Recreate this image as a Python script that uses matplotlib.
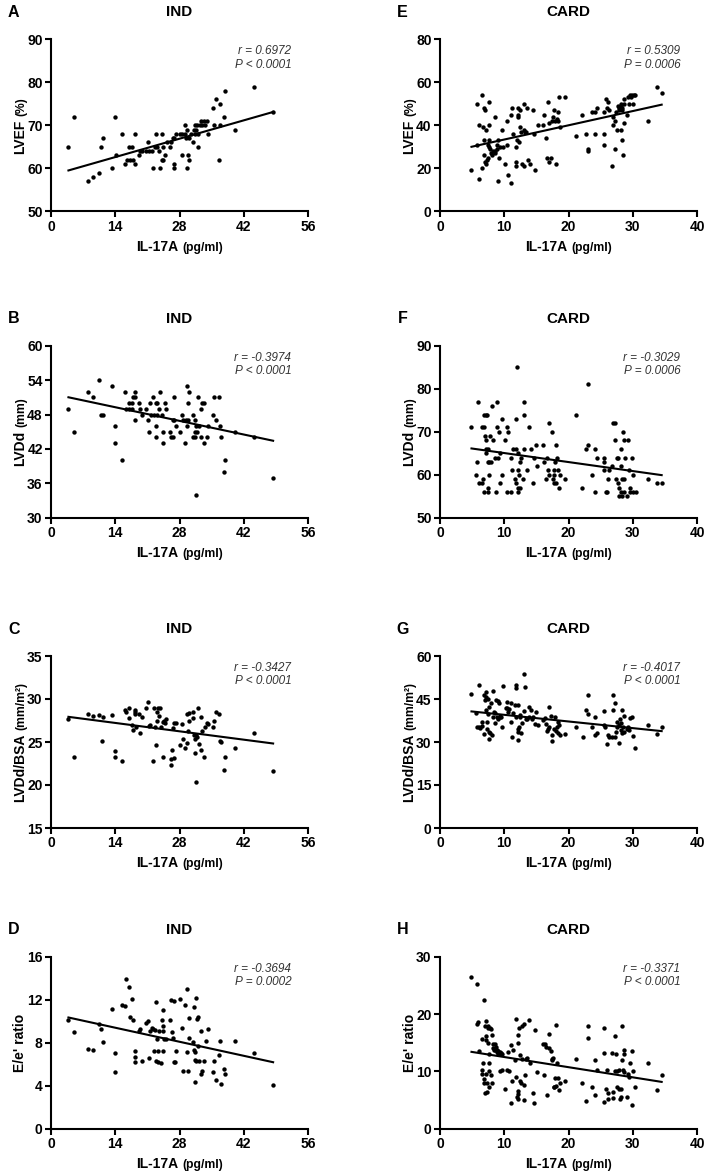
#Scatter plots of IL-17A against echo parameters, IND (left) and CARD (right) groups
#Each panel gets a least-squares line (slope/intercept)

import numpy as np
import matplotlib
matplotlib.use('Agg')
import matplotlib.pyplot as plt
from matplotlib.transforms import IdentityTransform

plt.rcParams['font.family'] = ['Liberation Sans', 'DejaVu Sans']

#---- IND group (panels A-D) ----
ind_a_x = [3.8, 5.0, 8.1, 9.1, 10.4, 11.0, 11.3, 13.3, 13.9, 14.1, 15.4, 16.2, 16.5, 17.0, 17.2, 17.7,
           17.9, 18.3, 18.4, 19.1, 19.4, 19.9, 20.6, 21.2, 21.3, 21.9, 22.3, 22.7, 22.8, 23.1, 23.6, 23.7,
           24.1, 24.2, 24.4, 24.4, 24.9, 25.2, 26.0, 26.2, 26.5, 26.7, 26.9, 26.9, 27.2, 28.1, 28.6, 28.6,
           29.1, 29.2, 29.5, 29.7, 29.7, 29.9, 30.0, 30.1, 30.4, 31.0, 31.1, 31.3, 31.4, 31.5, 31.8, 32.0,
           32.1, 32.4, 32.7, 33.0, 33.3, 33.6, 33.9, 34.3, 35.2, 35.5, 35.9, 36.5, 36.8, 36.9, 37.6, 37.9,
           40.0, 44.3, 48.4]
ind_a_y = [65, 72, 57, 58, 59, 65, 67, 60, 72, 63, 68, 61, 62, 65, 62, 65,
           62, 61, 68, 63, 64, 64, 64, 66, 64, 64, 60, 65, 68, 65, 64, 60,
           62, 68, 65, 62, 63, 66, 65, 66, 67, 61, 60, 67, 68, 68, 63, 68,
           70, 68, 67, 69, 60, 63, 62, 67, 68, 66, 69, 70, 68, 69, 70, 65,
           68, 70, 71, 70, 71, 70, 71, 68, 74, 70, 76, 62, 75, 70, 72, 78,
           69, 79, 73]

ind_b_x = [3.8, 5.0, 8.1, 9.1, 10.4, 11.0, 11.3, 13.3, 13.9, 14.0, 15.4, 16.2, 16.3, 16.9, 17.0, 17.6,
           17.7, 17.9, 18.2, 18.3, 18.4, 19.1, 19.4, 19.8, 20.6, 21.2, 21.3, 21.6, 21.8, 22.3, 22.4, 22.8,
           22.8, 22.9, 23.1, 23.2, 23.6, 23.8, 24.1, 24.3, 24.4, 24.9, 25.0, 26.0, 26.2, 26.5, 26.6, 26.8,
           26.9, 27.2, 28.2, 28.5, 28.8, 29.1, 29.4, 29.7, 29.7, 29.9, 30.0, 29.9, 31.0, 31.0, 31.3, 31.3,
           31.4, 31.5, 31.7, 31.8, 32.0, 32.2, 32.6, 32.7, 32.9, 33.4, 33.4, 34.0, 34.3, 35.2, 35.5, 35.9,
           36.5, 36.9, 37.0, 37.6, 37.9, 40.0, 44.3, 48.4]
ind_b_y = [49, 45, 52, 51, 54, 48, 48, 53, 43, 46, 40, 52, 49, 49, 50, 49,
           50, 51, 51, 52, 47, 50, 49, 48, 49, 47, 45, 50, 48, 51, 48, 46,
           50, 44, 50, 48, 49, 52, 48, 45, 43, 50, 49, 45, 44, 44, 47, 51,
           47, 46, 45, 48, 47, 43, 47, 46, 53, 50, 52, 47, 48, 44, 45, 47,
           44, 34, 46, 45, 51, 46, 49, 44, 50, 50, 43, 44, 46, 48, 51, 47,
           51, 46, 44, 38, 40, 45, 44, 37]

ind_c_x = [3.8, 5.1, 8.1, 9.1, 10.5, 11.1, 11.3, 13.3, 14.0, 13.9, 15.4, 16.2, 16.3, 17.0, 17.1, 17.6,
           17.9, 18.2, 18.3, 18.4, 18.6, 19.1, 19.3, 19.8, 20.7, 21.2, 21.3, 21.6, 22.2, 22.4, 22.7, 22.9,
           23.0, 23.1, 23.3, 23.6, 23.7, 24.0, 24.3, 24.4, 24.7, 24.9, 25.0, 26.1, 26.2, 26.4, 26.5, 26.8,
           26.9, 27.2, 28.2, 28.5, 28.8, 29.1, 29.6, 29.7, 29.9, 30.0, 30.0, 31.0, 31.0, 31.1, 31.3, 31.3,
           31.5, 31.7, 31.8, 32.1, 32.2, 32.6, 32.7, 33.0, 33.4, 33.6, 34.0, 34.3, 35.2, 35.5, 35.9, 36.5,
           36.9, 37.0, 37.6, 37.9, 40.0, 44.3, 48.4]
ind_c_y = [27.7, 23.2, 28.2, 28.0, 28.1, 25.1, 27.9, 28.1, 24.0, 23.3, 22.8, 28.7, 28.5, 28.9, 27.8, 27.0,
           26.4, 28.7, 28.2, 28.5, 26.8, 28.2, 26.0, 27.9, 29.0, 29.7, 26.9, 27.0, 22.8, 29.0, 26.8, 24.6,
           28.5, 27.4, 28.9, 28.0, 28.9, 26.8, 27.3, 23.3, 27.5, 27.2, 27.7, 22.3, 23.0, 24.1, 26.6, 27.2,
           23.1, 27.2, 24.7, 27.1, 25.4, 24.3, 24.9, 28.2, 26.3, 27.5, 28.4, 27.8, 28.5, 25.8, 23.7, 25.4,
           20.3, 25.8, 25.6, 28.9, 24.8, 24.1, 27.9, 26.3, 23.3, 26.7, 27.2, 27.1, 26.8, 27.5, 28.5, 28.2,
           25.1, 25.0, 21.8, 23.3, 24.3, 26.1, 21.6]

ind_d_x = [3.8, 5.0, 8.1, 9.1, 10.4, 11.0, 11.3, 13.3, 13.9, 13.9, 15.4, 16.2, 16.4, 17.0, 17.2, 17.7,
           17.9, 18.3, 18.2, 18.2, 19.2, 19.4, 19.9, 20.6, 21.2, 21.3, 21.6, 21.9, 22.3, 22.5, 22.7, 22.8,
           22.9, 23.1, 23.3, 23.4, 23.6, 23.9, 24.1, 24.3, 24.3, 24.4, 24.4, 24.7, 25.0, 26.0, 26.2, 26.4,
           26.5, 26.8, 26.9, 27.0, 27.2, 28.2, 28.6, 28.8, 29.1, 29.7, 29.7, 29.8, 30.0, 30.1, 31.0, 31.1,
           31.2, 31.3, 31.3, 31.4, 31.5, 31.7, 31.8, 32.0, 32.1, 32.2, 32.6, 32.7, 32.9, 33.4, 33.8, 34.3,
           35.2, 35.5, 35.9, 36.5, 36.9, 37.0, 37.6, 37.9, 40.0, 44.3, 48.4]
ind_d_y = [10.1, 9.0, 7.4, 7.3, 9.75, 9.3, 8.1, 11.15, 7.05, 5.25, 11.55, 11.43, 13.9, 13.2, 10.4, 12.1,
           10.1, 7.2, 6.7, 6.2, 9.1, 9.3, 6.3, 9.85, 10.0, 6.6, 9.1, 9.35, 9.3, 7.2, 9.2, 6.3,
           11.8, 8.3, 6.2, 7.2, 9.1, 6.1, 10.1, 9.1, 7.2, 9.6, 11.0, 8.3, 8.35, 10.1, 12.0, 9.0,
           8.45, 11.9, 6.2, 6.25, 7.2, 12.1, 9.35, 5.35, 11.5, 7.1, 13.0, 5.35, 10.3, 8.45, 8.1, 11.3,
           7.3, 7.1, 6.35, 4.3, 12.2, 6.3, 10.2, 10.35, 7.7, 6.3, 9.1, 5.05, 5.4, 6.3, 8.2, 9.3,
           5.3, 6.3, 4.55, 6.85, 8.15, 4.2, 5.6, 5.1, 8.15, 7.0, 4.1]

#---- CARD group (panels E-H) ----
card_e_x = [4.9, 5.7, 5.7, 6.0, 6.0, 6.5, 6.5, 6.7, 6.8, 6.9, 6.9, 7.0, 7.0, 7.1, 7.2, 7.3,
            7.4, 7.5, 7.6, 7.6, 7.7, 7.7, 7.8, 7.9, 8.1, 8.3, 8.5, 8.6, 8.6, 8.8, 9.1, 8.9,
            9.0, 9.2, 9.4, 9.6, 9.8, 10.1, 10.4, 10.5, 10.6, 11.0, 11.1, 11.2, 11.3, 11.8, 11.9, 11.9,
            12.0, 12.1, 12.1, 12.2, 12.3, 12.4, 12.4, 12.6, 12.7, 13.0, 13.1, 13.1, 13.2, 13.4, 13.6, 13.7,
            14.0, 14.4, 14.7, 14.8, 15.2, 16.0, 16.2, 16.5, 16.7, 16.8, 16.9, 17.0, 17.3, 17.4, 17.6, 17.7,
            17.9, 18.0, 18.2, 18.3, 18.4, 18.5, 18.6, 19.4, 21.1, 22.1, 22.8, 23.0, 23.1, 23.6, 24.1, 24.2,
            24.4, 25.5, 25.6, 25.6, 25.8, 26.0, 26.2, 26.3, 26.8, 26.9, 27.0, 27.2, 27.3, 27.4, 27.5, 27.7,
            27.8, 27.9, 28.1, 28.2, 28.2, 28.3, 28.4, 28.3, 28.5, 28.6, 28.6, 28.7, 29.1, 29.2, 29.4, 29.5,
            29.7, 29.9, 30.0, 30.2, 30.4, 32.4, 33.8, 34.5]
card_e_y = [19, 50, 31, 15, 40, 54, 20, 39, 48, 33, 26, 47, 23, 38, 22, 24,
            31, 25, 33, 40, 30, 51, 29, 27, 26, 28, 27, 28, 44, 31, 33, 29,
            14, 25, 30, 38, 30, 22, 42, 31, 17, 13, 45, 48, 36, 23, 30, 21,
            33, 48, 45, 44, 32, 47, 39, 37, 22, 38, 21, 50, 37, 37, 48, 24,
            22, 47, 36, 19, 40, 40, 45, 34, 25, 51, 41, 23, 25, 42, 44, 47,
            42, 22, 43, 42, 46, 53, 39, 53, 35, 45, 36, 29, 28, 46, 36, 46,
            48, 36, 31, 46, 52, 48, 51, 47, 21, 40, 44, 29, 42, 46, 38, 49,
            48, 47, 49, 38, 50, 47, 48, 33, 26, 41, 50, 52, 45, 53, 50, 54,
            53, 54, 50, 54, 54, 42, 58, 55]

card_f_x = [4.9, 5.7, 5.6, 5.9, 6.0, 6.5, 6.6, 6.7, 6.8, 6.9, 6.9, 7.0, 7.1, 7.1, 7.2, 7.2,
            7.3, 7.4, 7.4, 7.4, 7.5, 7.6, 7.7, 7.8, 7.9, 8.1, 8.2, 8.6, 8.7, 8.8, 8.9, 9.0,
            9.2, 9.4, 9.3, 9.6, 9.7, 10.1, 10.4, 10.5, 10.6, 11.0, 11.1, 11.2, 11.4, 11.7, 11.8, 11.9,
            11.9, 12.0, 12.1, 12.1, 12.2, 12.2, 12.3, 12.4, 12.4, 12.6, 12.9, 13.0, 13.1, 13.1, 13.6, 13.8,
            14.1, 14.4, 14.7, 14.9, 15.1, 16.0, 16.2, 16.5, 16.6, 16.8, 16.9, 17.0, 17.4, 17.6, 17.7, 17.7,
            17.8, 17.9, 18.0, 18.1, 18.2, 18.4, 18.5, 18.6, 19.4, 21.1, 22.1, 22.8, 23.0, 23.1, 23.6, 24.1,
            24.2, 24.4, 25.5, 25.6, 25.6, 25.8, 26.0, 26.2, 26.3, 26.8, 26.9, 27.2, 27.3, 27.4, 27.5, 27.7,
            27.7, 27.8, 27.9, 28.1, 28.1, 28.2, 28.3, 28.4, 28.5, 28.6, 28.6, 28.7, 28.8, 29.1, 29.2, 29.4,
            29.5, 29.6, 29.9, 30.0, 30.1, 30.5, 32.4, 33.8, 34.5]
card_f_y = [71, 63, 60, 77, 58, 71, 58, 59, 71, 56, 74, 69, 68, 74, 66, 65,
            74, 57, 66, 63, 56, 63, 60, 69, 63, 76, 68, 64, 56, 77, 71, 64,
            70, 58, 65, 60, 73, 68, 56, 71, 70, 64, 56, 61, 66, 59, 66, 73,
            58, 85, 61, 56, 65, 57, 60, 63, 57, 64, 59, 74, 77, 66, 61, 71,
            66, 58, 64, 67, 62, 67, 63, 59, 64, 61, 72, 60, 70, 59, 61, 58,
            60, 63, 67, 58, 64, 61, 57, 60, 59, 74, 57, 66, 81, 67, 60, 66,
            56, 64, 64, 63, 61, 56, 56, 59, 61, 62, 72, 72, 68, 59, 64, 64,
            58, 55, 57, 56, 62, 66, 55, 59, 70, 56, 59, 68, 64, 55, 68, 61,
            56, 57, 64, 60, 56, 56, 59, 58, 58]

card_g_x = [4.9, 5.6, 5.8, 6.0, 6.1, 6.3, 6.5, 6.6, 6.8, 6.9, 7.0, 7.1, 7.1, 7.2, 7.3, 7.3,
            7.4, 7.5, 7.6, 7.6, 7.7, 7.8, 7.9, 8.1, 8.2, 8.3, 8.4, 8.5, 8.6, 8.7, 8.8, 9.0,
            9.1, 9.2, 9.3, 9.4, 9.5, 9.6, 9.8, 10.2, 10.4, 10.5, 10.6, 10.8, 11.0, 11.1, 11.2, 11.4,
            11.7, 11.8, 11.9, 11.9, 12.1, 12.1, 12.1, 12.2, 12.3, 12.4, 12.5, 12.6, 12.8, 13.0, 13.1, 13.2,
            13.4, 13.6, 13.8, 13.9, 14.1, 14.3, 14.5, 14.8, 15.0, 15.2, 16.0, 16.3, 16.5, 16.7, 16.8, 16.9,
            17.0, 17.3, 17.4, 17.5, 17.7, 17.9, 18.0, 18.2, 18.3, 18.4, 18.5, 18.6, 19.4, 21.1, 22.2, 22.8,
            23.0, 23.1, 23.6, 24.1, 24.2, 24.4, 25.5, 25.6, 25.7, 26.0, 26.2, 26.3, 26.8, 26.9, 27.0, 27.2,
            27.3, 27.4, 27.5, 27.6, 27.8, 27.9, 28.0, 28.1, 28.2, 28.3, 28.4, 28.5, 28.6, 28.7, 29.1, 29.2,
            29.4, 29.6, 29.9, 30.0, 30.4, 32.4, 33.8, 34.5]
card_g_y = [46.7, 40.0, 35.1, 50.0, 35.3, 35.0, 37.0, 35.7, 32.7, 46.4, 44.6, 47.4, 41.1, 45.6, 37.0, 34.4,
            44.9, 39.6, 30.9, 33.4, 42.3, 33.0, 43.5, 32.4, 47.8, 38.6, 40.3, 36.8, 40.0, 44.6, 38.8, 44.2,
            38.0, 43.5, 39.0, 38.6, 38.8, 35.3, 49.5, 41.7, 43.9, 41.7, 40.3, 41.6, 37.0, 43.5, 31.6, 40.2,
            42.8, 50.0, 38.6, 48.7, 43.0, 33.6, 30.6, 34.6, 35.3, 39.4, 38.8, 33.0, 36.5, 40.8, 53.7, 49.3,
            38.1, 37.9, 38.8, 42.1, 41.1, 38.1, 38.8, 36.2, 40.3, 36.0, 37.6, 38.3, 36.2, 33.9, 34.5, 42.1,
            35.3, 39.0, 32.4, 30.4, 34.5, 38.7, 33.9, 35.3, 36.9, 33.0, 36.0, 32.5, 32.7, 35.2, 31.6, 41.1,
            46.4, 39.6, 35.2, 38.8, 32.5, 33.0, 40.7, 36.1, 35.2, 29.2, 32.4, 31.8, 31.8, 46.5, 41.1, 43.5,
            31.8, 33.6, 35.3, 37.0, 29.7, 36.0, 37.9, 34.1, 36.5, 41.1, 33.0, 35.2, 39.0, 33.6, 34.6, 35.3,
            34.1, 38.2, 38.8, 32.0, 28.0, 35.8, 32.7, 35.2]

card_h_x = [4.9, 5.7, 5.7, 5.9, 6.0, 6.5, 6.5, 6.6, 6.7, 6.8, 6.9, 6.9, 7.0, 7.0, 7.1, 7.1,
            7.2, 7.2, 7.3, 7.3, 7.4, 7.4, 7.5, 7.6, 7.6, 7.7, 7.7, 7.8, 7.9, 7.9, 8.1, 8.1,
            8.2, 8.3, 8.4, 8.5, 8.6, 8.7, 8.8, 8.9, 9.0, 9.1, 9.2, 9.3, 9.4, 9.5, 9.6, 9.7,
            10.1, 10.4, 10.6, 10.8, 11.0, 11.1, 11.2, 11.3, 11.7, 11.9, 11.9, 12.0, 12.1, 12.1, 12.1, 12.2,
            12.2, 12.3, 12.4, 12.5, 12.6, 12.7, 12.8, 13.0, 13.1, 13.1, 13.2, 13.4, 13.6, 13.8, 14.0, 14.4,
            14.7, 14.8, 15.1, 16.0, 16.2, 16.3, 16.5, 16.7, 16.9, 17.0, 17.3, 17.4, 17.5, 17.6, 17.7, 17.8,
            17.9, 18.0, 18.1, 18.2, 18.3, 18.5, 18.6, 19.4, 21.1, 22.1, 22.8, 23.0, 23.1, 23.6, 24.1, 24.2,
            24.4, 25.5, 25.5, 25.6, 25.8, 26.0, 26.1, 26.2, 26.8, 26.9, 27.0, 27.2, 27.3, 27.4, 27.5, 27.6,
            27.8, 27.9, 28.0, 28.1, 28.2, 28.3, 28.4, 28.5, 28.6, 28.7, 28.7, 29.1, 29.2, 29.4, 29.5, 29.9,
            30.0, 29.9, 30.4, 32.4, 33.8, 34.5]
card_h_y = [26.5, 25.2, 18.2, 18.6, 13.5, 15.6, 10.3, 9.6, 11.4, 8.0, 22.5, 8.7, 6.3, 17.9, 15.4, 18.8,
            9.5, 16.2, 7.9, 6.4, 17.9, 14.9, 17.5, 11.5, 10.0, 7.3, 13.1, 17.6, 9.3, 17.4, 16.4, 8.0,
            14.1, 14.8, 13.7, 13.7, 14.7, 14.2, 13.7, 13.3, 13.1, 13.5, 13.0, 13.3, 10.0, 13.2, 13.1, 10.2,
            7.0, 10.2, 13.4, 10.0, 14.6, 4.4, 8.3, 13.7, 11.9, 19.1, 9.1, 5.5, 6.6, 6.1, 5.2, 16.4,
            15.0, 17.6, 8.4, 12.9, 8.0, 17.9, 12.2, 18.2, 5.0, 7.6, 9.3, 12.2, 12.3, 18.9, 11.5, 6.2,
            4.4, 17.3, 9.9, 14.8, 9.3, 14.8, 14.3, 5.9, 16.6, 14.0, 13.5, 12.2, 11.9, 12.3, 7.2, 7.3,
            8.9, 18.1, 7.4, 11.5, 8.9, 6.7, 7.9, 8.3, 12.1, 8.0, 4.9, 17.9, 15.8, 7.2, 11.9, 5.8,
            10.2, 13.2, 17.5, 4.7, 6.9, 10.2, 6.2, 5.1, 13.2, 5.4, 6.4, 16.2, 10.0, 13.0, 10.1, 7.3,
            7.0, 10.3, 5.2, 7.0, 5.5, 11.9, 17.9, 10.2, 13.1, 13.7, 9.9, 5.5, 9.6, 9.0, 11.5, 13.5,
            10.0, 4.2, 7.3, 11.5, 6.8, 9.3]

#Regression lines as (intercept, slope)
fit_a = (58.34, 0.305)
fit_b = (51.65, -0.170)
fit_c = (28.19, -0.0695)
fit_d = (10.70, -0.0933)
fit_e = (26.76, 0.662)
fit_f = (67.13, -0.2095)
fit_g = (41.80, -0.232)
fit_h = (14.27, -0.177)

stats_text = {
    'A': ('r = 0.6972', 'P < 0.0001'),
    'B': ('r = -0.3974', 'P < 0.0001'),
    'C': ('r = -0.3427', 'P < 0.0001'),
    'D': ('r = -0.3694', 'P = 0.0002'),
    'E': ('r = 0.5309', 'P = 0.0006'),
    'F': ('r = -0.3029', 'P = 0.0006'),
    'G': ('r = -0.4017', 'P < 0.0001'),
    'H': ('r = -0.3371', 'P < 0.0001'),
}

ind_xticks = [0, 14, 28, 42, 56]
card_xticks = [0, 10, 20, 30, 40]

fig = plt.figure(figsize=(7.11, 11.75), dpi=100)
renderer = fig.canvas.get_renderer()


def split_label(ax, big, small, horizontal, offset_px):
    #Axis label with a bold main part and a smaller unit part, e.g. "LVEF" + "(%)"
    t1 = ax.text(0, 0, big, fontsize=10, fontweight='bold')
    t2 = ax.text(0, 0, small, fontsize=8.7, fontweight='bold')
    w1 = t1.get_window_extent(renderer).width
    w2 = t2.get_window_extent(renderer).width if small else 0
    gap = 3.5 if small else 0
    total = w1 + gap + w2
    box = ax.get_window_extent(renderer)
    if horizontal:
        cx = (box.x0 + box.x1) / 2
        by = box.y0 - offset_px
        pos = [(cx - total / 2, by), (cx - total / 2 + w1 + gap, by)]
        rot = 0
    else:
        cy = (box.y0 + box.y1) / 2
        bx = box.x0 - offset_px
        pos = [(bx, cy - total / 2), (bx, cy - total / 2 + w1 + gap)]
        rot = 90
    for t, p in zip([t1, t2], pos):
        t.set_transform(IdentityTransform())
        t.set_position(p)
        t.set_rotation(rot)
        t.set_rotation_mode('anchor')
        t.set_ha('left')
        t.set_va('baseline')


def draw_panel(ax, letter, title, x, y, fit, xticks, yticks, ylabel):
    ax.scatter(x, y, s=10, color='black', linewidths=0, zorder=3)
    xs = np.array([min(x), max(x)])
    ax.plot(xs, fit[0] + fit[1] * xs, color='black', lw=1.5, zorder=2)

    ax.set_xlim(xticks[0], xticks[-1])
    ax.set_ylim(yticks[0], yticks[-1])
    ax.set_xticks(xticks)
    ax.set_yticks(yticks)
    for s in ['top', 'right']:
        ax.spines[s].set_visible(False)
    for s in ['left', 'bottom']:
        ax.spines[s].set_linewidth(1.5)
    ax.tick_params(width=1.5, length=4, labelsize=10, pad=2)
    for lab in ax.get_xticklabels() + ax.get_yticklabels():
        lab.set_fontweight('bold')

    split_label(ax, 'IL-17A', '(pg/ml)', True, 39.4)
    split_label(ax, ylabel[0], ylabel[1], False, 26.5)

    ax.text(0.5, 1 + 27 / 172, title, transform=ax.transAxes, ha='center', va='center',
            fontsize=11, fontweight='bold')
    ax.text(-0.145, 1 + 27 / 172, letter, transform=ax.transAxes, ha='center', va='center',
            fontsize=11.5, fontweight='bold')

    r_txt, p_txt = stats_text[letter]
    ax.text(0.935, 0.93, r_txt, transform=ax.transAxes, ha='right', va='center',
            fontsize=8.5, style='italic', color='#333333')
    ax.text(0.935, 0.853, p_txt, transform=ax.transAxes, ha='right', va='center',
            fontsize=8.5, style='italic', color='#333333')


col_left = [51 / 711, 440 / 711]
width = 257 / 711
height = 172 / 1175
row_bottom = [1 - 211.3 / 1175, 1 - 517.7 / 1175, 1 - 828 / 1175, 1 - 1128.7 / 1175]

panels = [
    (0, 0, 'A', 'IND', ind_a_x, ind_a_y, fit_a, ind_xticks, [50, 60, 70, 80, 90], ('LVEF', '(%)')),
    (1, 0, 'B', 'IND', ind_b_x, ind_b_y, fit_b, ind_xticks, [30, 36, 42, 48, 54, 60], ('LVDd', '(mm)')),
    (2, 0, 'C', 'IND', ind_c_x, ind_c_y, fit_c, ind_xticks, [15, 20, 25, 30, 35], ('LVDd/BSA', '(mm/m²)')),
    (3, 0, 'D', 'IND', ind_d_x, ind_d_y, fit_d, ind_xticks, [0, 4, 8, 12, 16], ("E/e' ratio", '')),
    (0, 1, 'E', 'CARD', card_e_x, card_e_y, fit_e, card_xticks, [0, 20, 40, 60, 80], ('LVEF', '(%)')),
    (1, 1, 'F', 'CARD', card_f_x, card_f_y, fit_f, card_xticks, [50, 60, 70, 80, 90], ('LVDd', '(mm)')),
    (2, 1, 'G', 'CARD', card_g_x, card_g_y, fit_g, card_xticks, [0, 15, 30, 45, 60], ('LVDd/BSA', '(mm/m²)')),
    (3, 1, 'H', 'CARD', card_h_x, card_h_y, fit_h, card_xticks, [0, 10, 20, 30], ("E/e' ratio", '')),
]

for row, col, letter, title, x, y, fit, xt, yt, ylab in panels:
    ax = fig.add_axes([col_left[col], row_bottom[row], width, height])
    draw_panel(ax, letter, title, x, y, fit, xt, yt, ylab)

fig.savefig('out.png', dpi=100)
